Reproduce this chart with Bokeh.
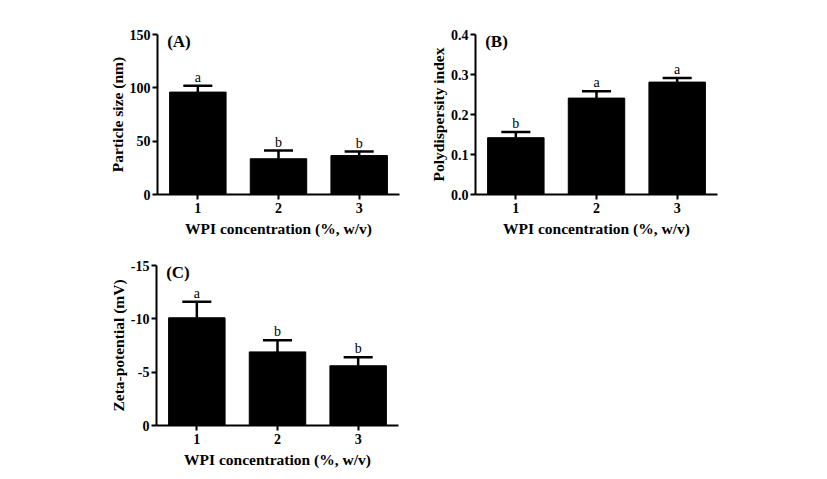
from bokeh.plotting import figure
from bokeh.layouts import column, row
from bokeh.models import FixedTicker, Label, ColumnDataSource, Range1d
from bokeh.core.properties import value
from bokeh.embed import file_html
from bokeh.resources import INLINE

conc = [1, 2, 3]
tick_labels = ["1", "2", "3"]

size_mean = [96.0, 33.5, 36.5]
size_sd = [6.0, 7.7, 3.8]
size_letters = ["a", "b", "b"]
size_ticks = [0, 50, 100, 150]
size_tick_labels = ["0", "50", "100", "150"]

pdi_mean = [0.142, 0.241, 0.281]
pdi_sd = [0.014, 0.017, 0.010]
pdi_letters = ["b", "a", "a"]
pdi_ticks = [0, 0.1, 0.2, 0.3, 0.4]
pdi_tick_labels = ["0.0", "0.1", "0.2", "0.3", "0.4"]

zeta_mean = [-10.1, -6.9, -5.6]
zeta_sd = [-1.5, -1.1, -0.8]
zeta_letters = ["a", "b", "b"]
zeta_ticks = [0, -5, -10, -15]
zeta_tick_labels = ["0", "-5", "-10", "-15"]

FONT = "Liberation Serif"


def panel(means, sds, letters, ylabel, yrange, yticks, ylabels, tag, bl, br, bt, bb):
    p = figure(output_backend="svg", toolbar_location=None,
               frame_width=242, frame_height=160,
               min_border_left=bl, min_border_right=br,
               min_border_top=bt, min_border_bottom=bb,
               x_range=Range1d(0.5, 3.5), y_range=Range1d(*yrange))
    p.outline_line_color = None
    p.grid.visible = False
    p.background_fill_color = "white"
    p.border_fill_color = "white"

    tops = [m + s for m, s in zip(means, sds)]
    src = ColumnDataSource(dict(x=conc, m=means, top=tops, l=letters,
                                cl=[c - 0.18 for c in conc], cr=[c + 0.18 for c in conc]))
    p.vbar(x="x", top="m", bottom=0, width=0.7, source=src,
           fill_color="black", line_color="black")
    p.segment(x0="x", y0="m", x1="x", y1="top", source=src, line_color="black", line_width=2.5)
    p.segment(x0="cl", y0="top", x1="cr", y1="top", source=src, line_color="black", line_width=2.5)
    p.text(x="x", y="top", text="l", source=src, text_align="center",
           text_baseline="bottom", y_offset=-1,
           text_font=value(FONT), text_font_size="14px", text_color="black")

    for ax in (p.xaxis[0], p.yaxis[0]):
        ax.axis_line_width = 2
        ax.axis_line_color = "black"
        ax.major_tick_line_width = 2
        ax.major_tick_line_color = "black"
        ax.major_tick_in = 0
        ax.major_tick_out = 5
        ax.minor_tick_line_color = None
        ax.major_label_text_font = FONT
        ax.major_label_text_font_style = "bold"
        ax.major_label_text_font_size = "14px"
        ax.major_label_text_color = "black"
        ax.axis_label_text_font = FONT
        ax.axis_label_text_font_style = "bold"
        ax.axis_label_text_font_size = "15.5px"
        ax.axis_label_text_color = "black"

    p.xaxis.ticker = FixedTicker(ticks=conc)
    p.xaxis.major_label_overrides = {c: t for c, t in zip(conc, tick_labels)}
    p.xaxis.axis_label = "WPI concentration (%, w/v)"
    p.xaxis.major_label_standoff = 3
    p.xaxis.axis_label_standoff = 4
    p.yaxis.ticker = FixedTicker(ticks=yticks)
    p.yaxis.major_label_overrides = {t: s for t, s in zip(yticks, ylabels)}
    p.yaxis.axis_label = ylabel
    p.yaxis.major_label_standoff = 2
    p.yaxis.axis_label_standoff = 1

    lab = Label(x=0.62, y=yrange[1], text=tag, text_baseline="top", y_offset=3,
                text_font=FONT, text_font_style="bold", text_font_size="17px",
                text_color="black")
    p.add_layout(lab)
    return p


pA = panel(size_mean, size_sd, size_letters, "Particle size (nm)", (0, 150),
           size_ticks, size_tick_labels, "(A)", 157, 10, 34, 48)
pB = panel(pdi_mean, pdi_sd, pdi_letters, "Polydispersity index", (0, 0.4),
           pdi_ticks, pdi_tick_labels, "(B)", 66, 20, 34, 48)
pC = panel(zeta_mean, zeta_sd, zeta_letters, "Zeta-potential (mV)", (0, -15),
           zeta_ticks, zeta_tick_labels, "(C)", 156, 10, 23, 45)

layout = column(row(pA, pB), pC)
open("out.html", "w").write(file_html(layout, INLINE))
